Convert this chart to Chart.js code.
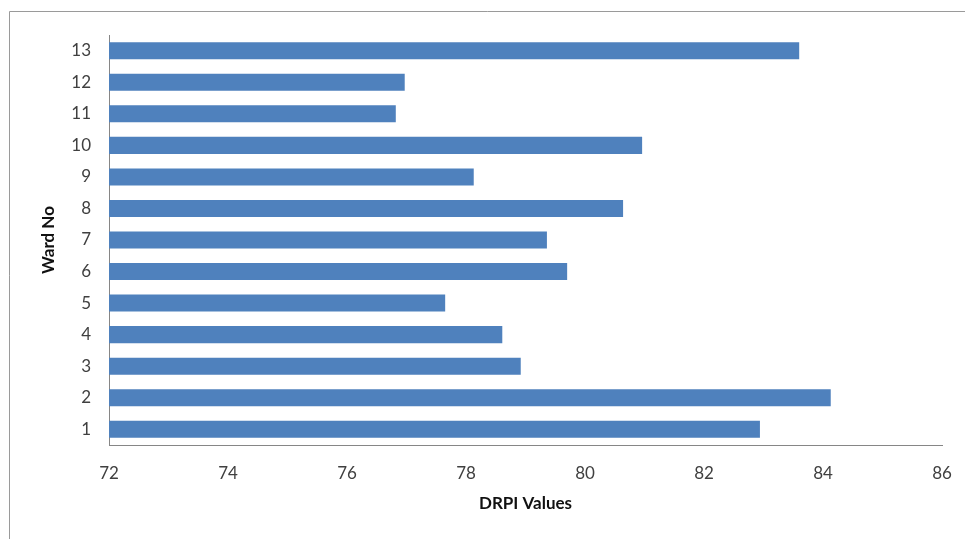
<!DOCTYPE html>
<html>
<head>
<meta charset="utf-8">
<script src="https://cdn.jsdelivr.net/npm/chart.js@4"></script>
<style>
  html, body { margin: 0; padding: 0; background: #ffffff; }
  #wrap { width: 965px; height: 539px; position: relative; }
</style>
</head>
<body>
<div id="wrap"><canvas id="c" width="965" height="539"></canvas></div>
<script>
// Ward numbers (bottom to top) and their DRPI values
const wards = ['1', '2', '3', '4', '5', '6', '7', '8', '9', '10', '11', '12', '13'];
const drpiValues = [82.94, 84.13, 78.92, 78.61, 77.65, 79.70, 79.36, 80.64, 78.13, 80.96, 76.82, 76.97, 83.60];
const xMin = 72;
const xMax = 86;
const xStep = 2;

// Thin grey frame around the figure
const framePlugin = {
  id: 'frame',
  beforeDraw(chart) {
    const ctx = chart.ctx;
    ctx.save();
    ctx.strokeStyle = '#9a9a9a';
    ctx.lineWidth = 1;
    ctx.beginPath();
    ctx.moveTo(9.5, chart.height);
    ctx.lineTo(9.5, 11.5);
    ctx.lineTo(chart.width, 11.5);
    ctx.stroke();
    ctx.restore();
  }
};

const font = 'Lato, "Liberation Sans", sans-serif';

new Chart(document.getElementById('c'), {
  type: 'bar',
  data: {
    labels: wards,
    datasets: [{
      data: drpiValues,
      backgroundColor: '#4f81bd',
      borderWidth: 0,
      barPercentage: 0.54,
      categoryPercentage: 1.0
    }]
  },
  options: {
    indexAxis: 'y',
    responsive: false,
    animation: false,
    layout: { padding: { left: 0, top: 35, right: 23, bottom: 0 } },
    plugins: {
      legend: { display: false },
      tooltip: { enabled: false }
    },
    scales: {
      x: {
        min: xMin,
        max: xMax,
        ticks: {
          stepSize: xStep,
          color: '#404040',
          font: { family: font, size: 17 },
          padding: 18,
          maxRotation: 0
        },
        grid: { display: true, drawOnChartArea: false, drawTicks: false },
        border: { display: true, color: '#868686', width: 1 },
        title: {
          display: true,
          text: 'DRPI Values',
          color: '#111111',
          font: { family: font, size: 17, weight: 'bold' },
          padding: { top: 0, bottom: 25 }
        },
        afterFit(scale) {
          scale.height = 94;
          scale.paddingLeft = 0;
          scale.paddingRight = 0;
        }
      },
      y: {
        reverse: true,
        ticks: {
          color: '#404040',
          font: { family: font, size: 17 },
          padding: 18
        },
        grid: { display: true, drawOnChartArea: false, drawTicks: false },
        border: { display: true, color: '#868686', width: 1 },
        title: {
          display: true,
          text: 'Ward No',
          color: '#111111',
          font: { family: font, size: 17, weight: 'bold' },
          padding: { top: 38, bottom: 0 }
        },
        afterFit(scale) {
          scale.width = 109;
          scale.paddingTop = 0;
          scale.paddingBottom = 0;
        }
      }
    }
  },
  plugins: [framePlugin]
});
</script>
</body>
</html>
